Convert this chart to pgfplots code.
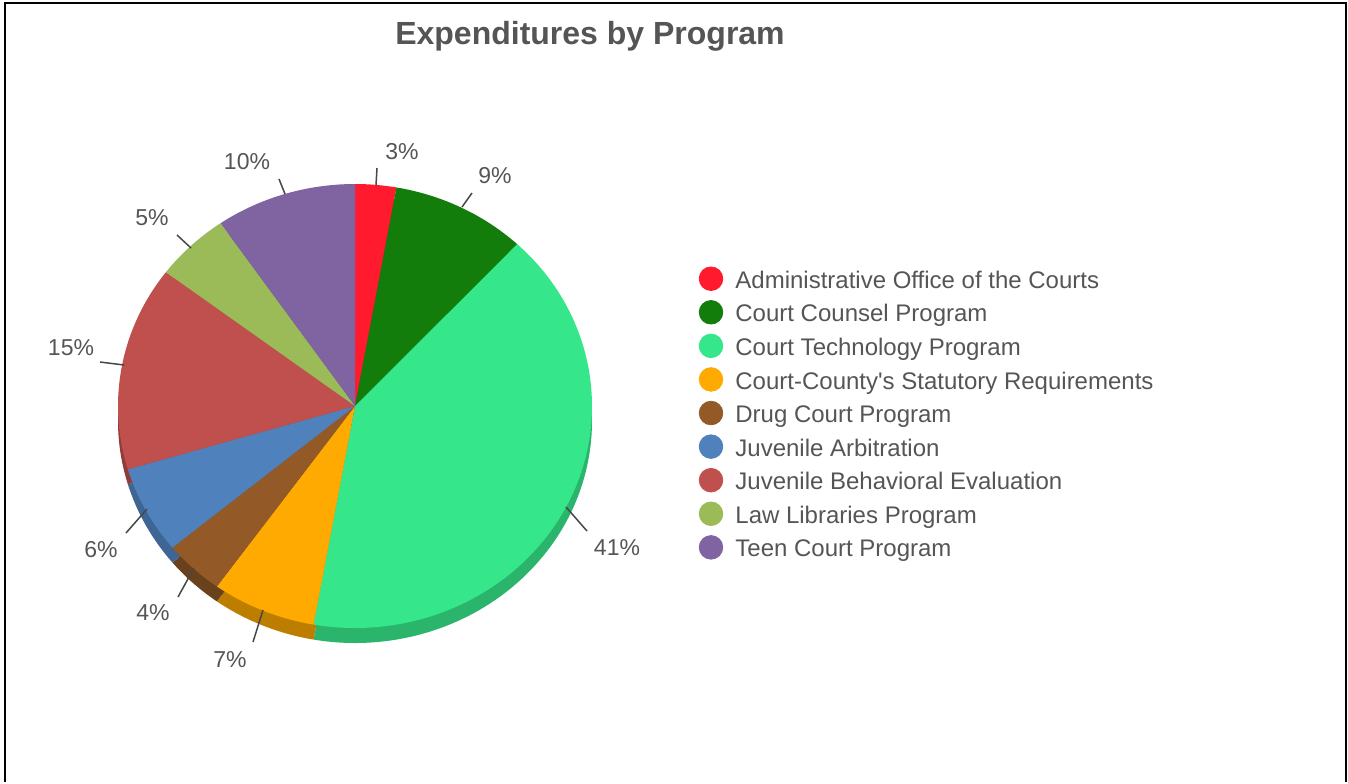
\documentclass[border=0pt]{standalone}
\usepackage{pgfplots}
\usepackage{pgfplotstable}
\pgfplotsset{compat=1.18}
\usepackage{fontspec}
\setmainfont{Liberation Sans}

% slice colours and their darker sides
\definecolor{cA}{HTML}{FF1B2D}
\definecolor{cB}{HTML}{127D0A}
\definecolor{cC}{HTML}{36E68B}
\definecolor{cD}{HTML}{FFAA00}
\definecolor{cE}{HTML}{935A28}
\definecolor{cF}{HTML}{4F81BD}
\definecolor{cG}{HTML}{C0504D}
\definecolor{cH}{HTML}{9BBB59}
\definecolor{cI}{HTML}{8064A2}
\colorlet{cAs}{cA!75!black}
\colorlet{cBs}{cB!75!black}
\colorlet{cCs}{cC!78!black}
\colorlet{cDs}{cD!74!black}
\colorlet{cEs}{cE!72!black}
\colorlet{cFs}{cF!78!black}
\colorlet{cGs}{cG!75!black}
\colorlet{cHs}{cH!75!black}
\colorlet{cIs}{cI!75!black}
\definecolor{txtgray}{HTML}{555555}
\definecolor{linegray}{HTML}{474747}

% share in percent, colours, label centre, connector start and offset, name
\pgfplotstableread[col sep=comma]{
pct,fill,side,lx,ly,x0,y0,u,v,name
2.8,cA,cAs,402,152,376,185,1,-17,Administrative Office of the Courts
9.2,cB,cBs,495,176,462,207,10,-14,Court Counsel Program
40.8,cC,cCs,617,548,566,507,21,24,Court Technology Program
7.1,cD,cDs,230,660,263,610,-10,32,Court-County\textquotesingle s Statutory Requirements
4.1,cE,cEs,153,613,194,568,-16,29,Drug Court Program
6.4,cF,cFs,101,550,147,509,-21,24,Juvenile Arbitration
14.9,cG,cGs,71,348,124,365,-24,-3,Juvenile Behavioral Evaluation
5.1,cH,cHs,152,218,191,248,-14,-13,Law Libraries Program
9.6,cI,cIs,247,162,285,194,-6,-15,Teen Court Program
}\piedata

\begin{document}
\begin{tikzpicture}
\begin{axis}[
    scale only axis,
    width=674pt, height=391pt,
    xmin=0, xmax=1348, ymin=0, ymax=782,
    y dir=reverse,
    hide axis,
    clip=false,
]
    \path (axis cs:0,0) rectangle (axis cs:1348,782);
    % frame
    \draw[line width=1pt] (axis cs:5,782) -- (axis cs:5,3) -- (axis cs:1346,3) -- (axis cs:1346,782);

    % pie: side band first, then the top face
    \pgfplotsextra{%
        \pgfplotstablegetrowsof{\piedata}%
        \pgfmathtruncatemacro{\lastrow}{\pgfplotsretval-1}%
        \foreach \dy/\col in {15/side,0/fill} {%
            \xdef\acc{0}%
            \pgfmathsetmacro{\cy}{406+\dy}%
            \foreach \i in {0,...,\lastrow} {%
                \pgfplotstablegetelem{\i}{pct}\of\piedata \let\pv\pgfplotsretval
                \pgfplotstablegetelem{\i}{\col}\of\piedata \let\fc\pgfplotsretval
                \pgfmathsetmacro{\aS}{90-3.6*\acc}%
                \pgfmathsetmacro{\aE}{90-3.6*(\acc+\pv)}%
                \fill[\fc] (axis cs:355,\cy) -- ++(\aS:118.5pt and 111pt)
                    arc[start angle=\aS, end angle=\aE, x radius=118.5pt, y radius=111pt] -- cycle;
                \pgfmathsetmacro{\tmp}{\acc+\pv}\xdef\acc{\tmp}%
            }%
        }%
    }

    % connectors
    \addplot[quiver={u=\thisrow{u}, v=\thisrow{v}}, draw=linegray, line width=0.75pt]
        table[x=x0, y=y0] {\piedata};

    % percentage labels
    \addplot[only marks, mark=none, point meta=explicit,
        nodes near coords={\pgfmathprintnumber[fixed,precision=0,assume math mode=true]{\pgfplotspointmeta}\%},
        every node near coord/.append style={anchor=center, inner sep=0pt,
            font=\fontsize{11.5}{13}\selectfont, text=txtgray}]
        table[x=lx, y=ly, meta=pct] {\piedata};

    % legend markers
    \addplot[scatter, only marks, mark=*, mark size=5.9pt,
        scatter src=explicit symbolic,
        scatter/classes={
            cA={mark=*,fill=cA,draw=cA}, cB={mark=*,fill=cB,draw=cB},
            cC={mark=*,fill=cC,draw=cC}, cD={mark=*,fill=cD,draw=cD},
            cE={mark=*,fill=cE,draw=cE}, cF={mark=*,fill=cF,draw=cF},
            cG={mark=*,fill=cG,draw=cG}, cH={mark=*,fill=cH,draw=cH},
            cI={mark=*,fill=cI,draw=cI}}]
        table[x expr=711, y expr={278.7+33.58*\coordindex}, meta=fill] {\piedata};

    % legend names
    \addplot[only marks, mark=none, point meta=explicit symbolic, nodes near coords,
        every node near coord/.append style={anchor=base west, inner sep=0pt,
            font=\fontsize{12}{14}\selectfont, text=txtgray}]
        table[x expr=735, y expr={288.3+33.58*\coordindex}, meta=name] {\piedata};

    \node[anchor=base, inner sep=0pt, font=\bfseries\fontsize{16}{19}\selectfont, text=txtgray]
        at (axis cs:590,44) {Expenditures by Program};
\end{axis}
\end{tikzpicture}
\end{document}
